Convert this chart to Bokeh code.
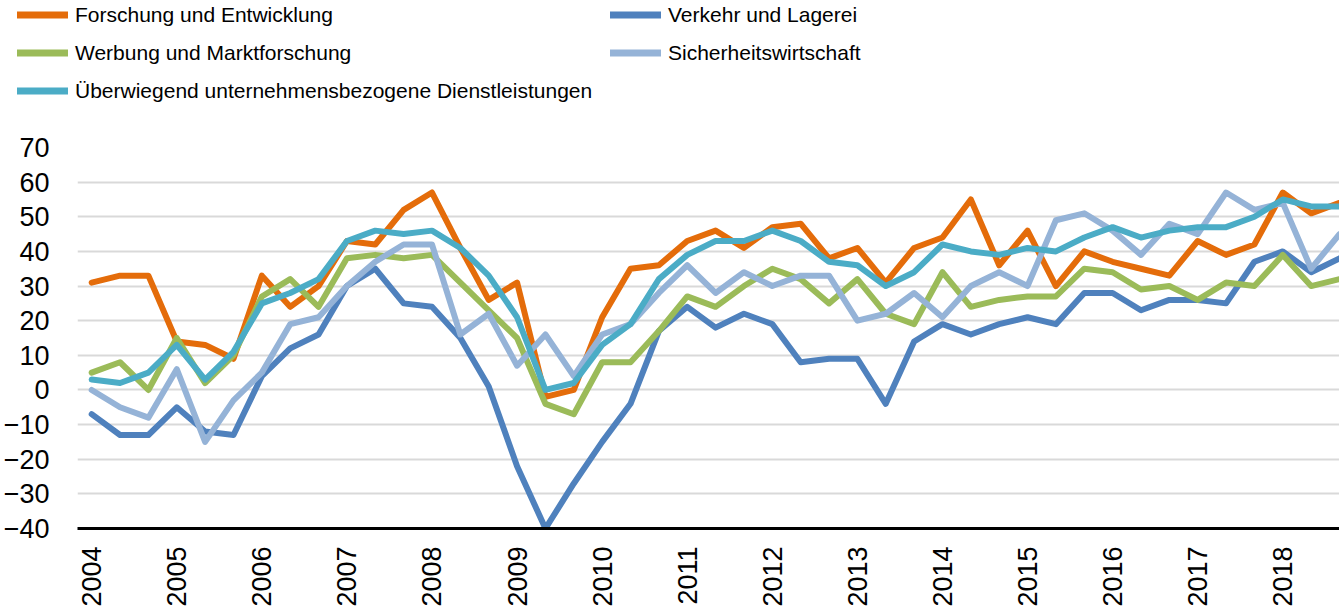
import math
from bokeh.plotting import figure
from bokeh.models import Range1d, FixedTicker, Legend, LegendItem
from bokeh.embed import file_html
from bokeh.resources import INLINE

# ---------------- data (3 observations per year, 2004 .. 2018) ----------------
years = ["2004", "2005", "2006", "2007", "2008", "2009", "2010", "2011",
         "2012", "2013", "2014", "2015", "2016", "2017", "2018"]
obs_per_year = 3

forschung = [31, 33, 33, 14, 13, 9, 33, 24, 30, 43,
             42, 52, 57, 41, 26, 31, -2, 0, 21, 35,
             36, 43, 46, 41, 47, 48, 38, 41, 31, 41,
             44, 55, 36, 46, 30, 40, 37, 35, 33, 43,
             39, 42, 57, 51, 54]
verkehr = [-7, -13, -13, -5, -12, -13, 4, 12, 16, 30,
           35, 25, 24, 15, 1, -22, -40, -27, -15, -4,
           17, 24, 18, 22, 19, 8, 9, 9, -4, 14,
           19, 16, 19, 21, 19, 28, 28, 23, 26, 26,
           25, 37, 40, 34, 38]
werbung = [5, 8, 0, 15, 2, 10, 27, 32, 24, 38,
           39, 38, 39, 31, 23, 15, -4, -7, 8, 8,
           17, 27, 24, 30, 35, 32, 25, 32, 22, 19,
           34, 24, 26, 27, 27, 35, 34, 29, 30, 26,
           31, 30, 39, 30, 32]
sicherheit = [0, -5, -8, 6, -15, -3, 5, 19, 21, 30,
              37, 42, 42, 16, 22, 7, 16, 4, 16, 19,
              28, 36, 28, 34, 30, 33, 33, 20, 22, 28,
              21, 30, 34, 30, 49, 51, 46, 39, 48, 45,
              57, 52, 54, 35, 45]
ueberwiegend = [3, 2, 5, 13, 3, 11, 25, 28, 32, 43,
                46, 45, 46, 41, 33, 21, 0, 2, 13, 19,
                32, 39, 43, 43, 46, 43, 37, 36, 30, 34,
                42, 40, 39, 41, 40, 44, 47, 44, 46, 47,
                47, 50, 55, 53, 53]

series_names = ["Forschung und Entwicklung", "Verkehr und Lagerei",
                "Werbung und Marktforschung", "Sicherheitswirtschaft",
                "Überwiegend unternehmensbezogene Dienstleistungen"]
series_values = [forschung, verkehr, werbung, sicherheit, ueberwiegend]
series_colors = ["#E46C0A", "#4F81BD", "#9BBB59", "#95B3D7", "#4BACC6"]

y_ticks = list(range(-40, 71, 10))

# ---------------- layout constants ----------------
TOTAL_W = 1334
LEG_AREA_H = 129
MAIN_TOP = 18
LEFT = 72
FRAME_W, FRAME_H = TOTAL_W - LEFT, 381

x = list(range(len(forschung)))

# ---------------- legend strip (top) ----------------
pl = figure(width=TOTAL_W, height=LEG_AREA_H, output_backend="svg",
            toolbar_location=None,
            x_range=Range1d(1000, 1001), y_range=Range1d(1000, 1001),
            x_axis_location=None, y_axis_location=None, min_border=0)
pl.outline_line_color = None
pl.xgrid.visible = False
pl.ygrid.visible = False
pl.background_fill_color = "white"
pl.border_fill_color = "white"

leg_renderers = []
for name, vals, col in zip(series_names, series_values, series_colors):
    r = pl.line(x, vals, line_color=col, line_width=7, line_cap="round")
    leg_renderers.append(r)

ROW_H, SP = 29, 9
LEG_H = 3 * ROW_H + 2 * SP
legend = Legend(items=[LegendItem(label=n, renderers=[r])
                       for n, r in zip(series_names, leg_renderers)],
                orientation="horizontal", ncols=2,
                location=(17, LEG_AREA_H - LEG_H),
                glyph_width=51, glyph_height=ROW_H,
                label_height=ROW_H, label_standoff=7, label_width=526,
                spacing=SP, padding=0, margin=0,
                border_line_alpha=0, background_fill_alpha=0,
                label_text_font="Liberation Sans",
                label_text_font_size="21px", label_text_color="#000000")
pl.add_layout(legend, "center")

# ---------------- main chart ----------------
p = figure(frame_width=FRAME_W, frame_height=FRAME_H,
           output_backend="svg", toolbar_location=None,
           x_range=Range1d(-0.5, len(x) - 1), y_range=Range1d(-40, 70),
           min_border_left=LEFT, min_border_right=0, min_border_top=MAIN_TOP,
           min_border_bottom=0)
p.outline_line_color = None
p.background_fill_color = "white"
p.border_fill_color = "white"

p.xgrid.visible = False
p.ygrid.grid_line_color = "#d9d9d9"
p.ygrid.grid_line_width = 2
p.ygrid.ticker = FixedTicker(ticks=y_ticks)

AX_FONT = "Liberation Sans"

p.yaxis.ticker = FixedTicker(ticks=y_ticks)
p.yaxis.axis_line_color = None
p.yaxis.major_tick_line_color = None
p.yaxis.minor_tick_line_color = None
p.yaxis.major_tick_out = 0
p.yaxis.major_tick_in = 0
p.yaxis.major_label_text_font = AX_FONT
p.yaxis.major_label_text_font_size = "27px"
p.yaxis.major_label_text_color = "#000000"
p.yaxis.major_label_standoff = 28

tick_pos = [i * obs_per_year for i in range(len(years))]
p.xaxis.ticker = FixedTicker(ticks=tick_pos)
p.xaxis.major_label_overrides = {t: y for t, y in zip(tick_pos, years)}
p.xaxis.major_label_orientation = math.pi / 2
p.xaxis.axis_line_color = "#000000"
p.xaxis.axis_line_width = 3
p.xaxis.major_tick_line_color = None
p.xaxis.minor_tick_line_color = None
p.xaxis.major_tick_out = 0
p.xaxis.major_tick_in = 0
p.xaxis.major_label_text_font = AX_FONT
p.xaxis.major_label_text_font_size = "27px"
p.xaxis.major_label_text_color = "#000000"
p.xaxis.major_label_standoff = 18

for name, vals, col in zip(series_names, series_values, series_colors):
    p.line(x, vals, line_color=col, line_width=6,
           line_join="round", line_cap="round")

open("out.html", "w").write(file_html([pl, p], INLINE))
